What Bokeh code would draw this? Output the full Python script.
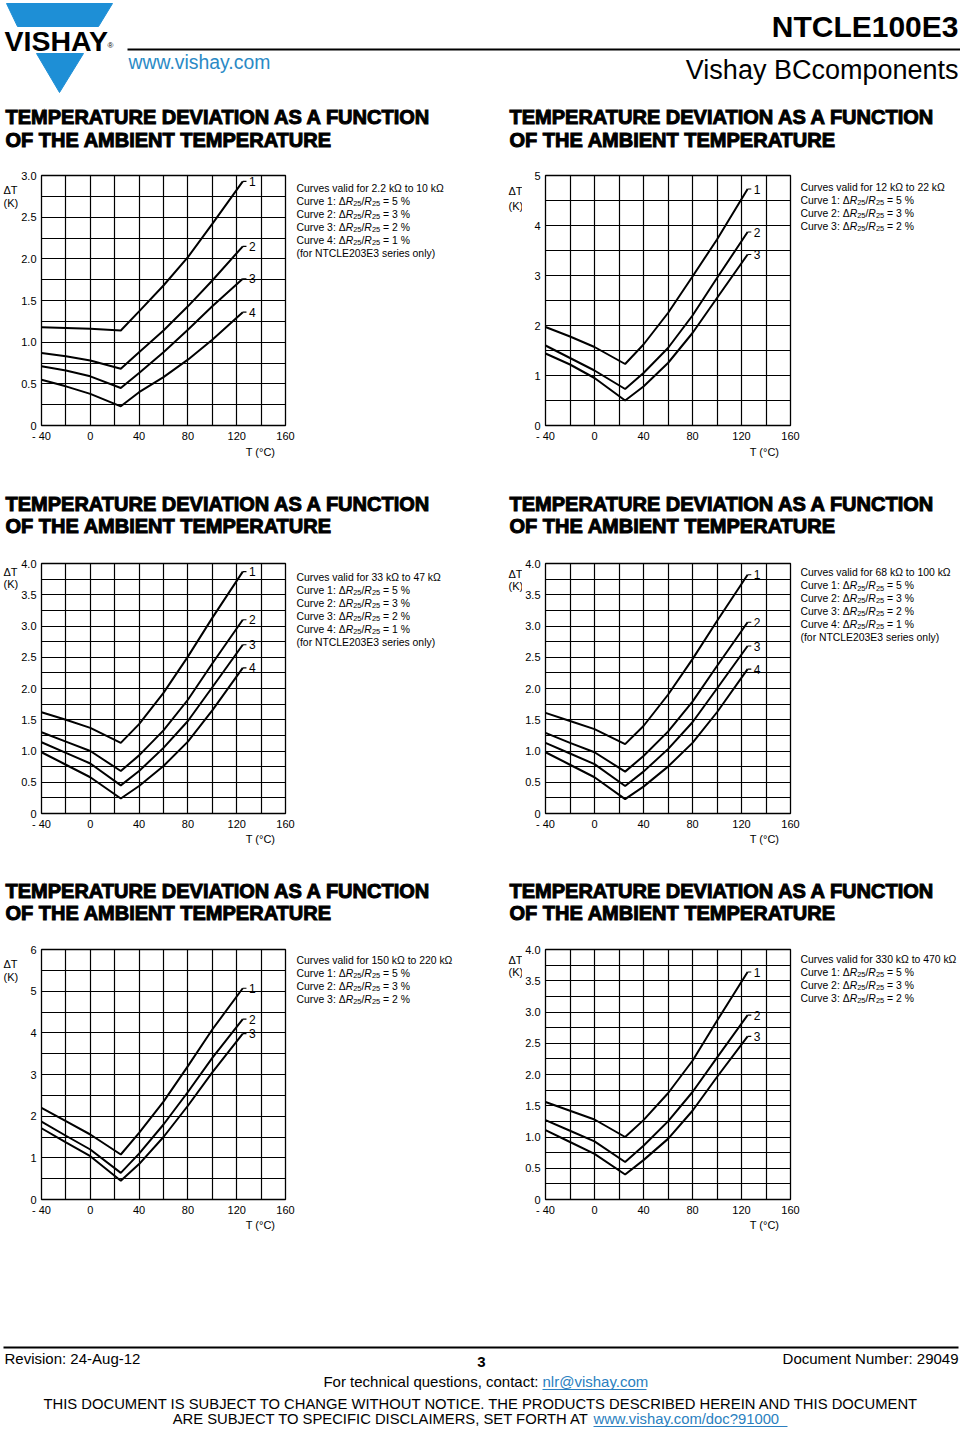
from bokeh.plotting import figure
from bokeh.models import Range1d, FixedTicker, Label
from bokeh.layouts import column, row
from bokeh.embed import file_html
from bokeh.resources import INLINE

FONT = "Liberation Sans"

# ---------------- data ----------------
T = [-40, -20, 0, 25, 40, 60, 80, 100, 125]
x_ticks = [-40, 0, 40, 80, 120, 160]
x_tick_labels = ["- 40", "0", "40", "80", "120", "160"]
x_grid = [-40, -20, 0, 20, 40, 60, 80, 100, 120, 140, 160]

# chart 1: 2.2 kOhm to 10 kOhm
ch1_c1 = [1.18, 1.17, 1.16, 1.14, 1.37, 1.68, 2.02, 2.42, 2.93]
ch1_c2 = [0.87, 0.83, 0.78, 0.68, 0.88, 1.14, 1.43, 1.74, 2.15]
ch1_c3 = [0.71, 0.66, 0.59, 0.45, 0.63, 0.88, 1.15, 1.43, 1.76]
ch1_c4 = [0.55, 0.47, 0.38, 0.23, 0.40, 0.58, 0.79, 1.03, 1.36]
ch1_yticks = [0, 0.5, 1.0, 1.5, 2.0, 2.5, 3.0]
ch1_ylabels = ["0", "0.5", "1.0", "1.5", "2.0", "2.5", "3.0"]

# chart 2: 12 kOhm to 22 kOhm
ch2_c1 = [1.97, 1.78, 1.57, 1.23, 1.62, 2.25, 2.98, 3.72, 4.73]
ch2_c2 = [1.60, 1.35, 1.10, 0.73, 1.05, 1.55, 2.20, 2.95, 3.87]
ch2_c3 = [1.44, 1.22, 0.95, 0.50, 0.78, 1.25, 1.85, 2.55, 3.42]
ch2_yticks = [0, 1, 2, 3, 4, 5]
ch2_ylabels = ["0", "1", "2", "3", "4", "5"]

# chart 3: 33 kOhm to 47 kOhm
ch3_c1 = [1.62, 1.50, 1.37, 1.13, 1.43, 1.93, 2.51, 3.13, 3.87]
ch3_c2 = [1.30, 1.15, 1.00, 0.68, 0.93, 1.33, 1.82, 2.40, 3.10]
ch3_c3 = [1.14, 0.97, 0.80, 0.45, 0.68, 1.05, 1.48, 2.02, 2.70]
ch3_c4 = [0.98, 0.78, 0.58, 0.24, 0.44, 0.76, 1.15, 1.65, 2.33]
ch3_yticks = [0, 0.5, 1.0, 1.5, 2.0, 2.5, 3.0, 3.5, 4.0]
ch3_ylabels = ["0", "0.5", "1.0", "1.5", "2.0", "2.5", "3.0", "3.5", "4.0"]

# chart 4: 68 kOhm to 100 kOhm
ch4_c1 = [1.61, 1.48, 1.35, 1.11, 1.40, 1.90, 2.47, 3.08, 3.82]
ch4_c2 = [1.29, 1.13, 0.98, 0.67, 0.92, 1.31, 1.79, 2.36, 3.06]
ch4_c3 = [1.13, 0.96, 0.79, 0.44, 0.67, 1.03, 1.46, 2.00, 2.68]
ch4_c4 = [0.98, 0.78, 0.58, 0.23, 0.43, 0.75, 1.13, 1.62, 2.31]
ch4_yticks = ch3_yticks
ch4_ylabels = ch3_ylabels

# chart 5: 150 kOhm to 220 kOhm
ch5_c1 = [2.20, 1.88, 1.56, 1.08, 1.60, 2.35, 3.20, 4.08, 5.07]
ch5_c2 = [1.87, 1.53, 1.20, 0.64, 1.10, 1.80, 2.58, 3.40, 4.33]
ch5_c3 = [1.71, 1.37, 1.04, 0.45, 0.85, 1.50, 2.25, 3.05, 3.98]
ch5_yticks = [0, 1, 2, 3, 4, 5, 6]
ch5_ylabels = ["0", "1", "2", "3", "4", "5", "6"]

# chart 6: 330 kOhm to 470 kOhm
ch6_c1 = [1.56, 1.42, 1.28, 1.00, 1.27, 1.70, 2.22, 2.86, 3.64]
ch6_c2 = [1.27, 1.10, 0.93, 0.60, 0.86, 1.25, 1.72, 2.27, 2.95]
ch6_c3 = [1.11, 0.92, 0.73, 0.40, 0.63, 0.97, 1.42, 1.96, 2.61]
ch6_yticks = ch3_yticks
ch6_ylabels = ch3_ylabels

valid_ranges = ["2.2 k\u03a9 to 10 k\u03a9", "12 k\u03a9 to 22 k\u03a9", "33 k\u03a9 to 47 k\u03a9",
                "68 k\u03a9 to 100 k\u03a9", "150 k\u03a9 to 220 k\u03a9", "330 k\u03a9 to 470 k\u03a9"]
curve_pcts = ["5 %", "3 %", "2 %", "1 %"]
note_line = "(for NTCLE203E3 series only)"

title1 = "TEMPERATURE DEVIATION AS A FUNCTION"
title2 = "OF THE AMBIENT TEMPERATURE"

BLUE = "#1e8fd6"
LINK = "#2a7fc0"

# ---------------- helpers ----------------
FR_H = 251      # frame height
TOP_B = 10      # chart top border
BOT_B = 18      # chart bottom border
LEFT_B = 23
RIGHT_B = 10


def text_fig(x0, x1, y0, y1, top_b=0, bot_b=0):
    # page-coordinate canvas; the frame covers y0 + top_b .. y1 - bot_b
    f = figure(width=x1 - x0, height=y1 - y0,
               x_range=Range1d(x0, x1), y_range=Range1d(y1 - bot_b, y0 + top_b),
               x_axis_type=None, y_axis_type=None, output_backend="svg", title=None,
               toolbar_location=None, min_border_left=0, min_border_right=0,
               min_border_top=top_b, min_border_bottom=bot_b)
    f.outline_line_color = None
    f.background_fill_color = "white"
    f.border_fill_color = "white"
    return f


def txt(f, x, y, t, size="11px", align="left", style="normal", color="black", outline=None):
    f.add_layout(Label(x=x, y=y, text=t, text_font=FONT, text_font_size=size,
                       text_font_style=style, text_align=align, text_baseline="middle",
                       text_color=color, text_outline_color=outline))


def chart_fig(fw, ymax, ystep, yticks, ylabels, curves):
    p = figure(width=LEFT_B + fw + RIGHT_B, height=TOP_B + FR_H + BOT_B,
               x_range=Range1d(-40, 160), y_range=Range1d(0, ymax), title=None,
               output_backend="svg", toolbar_location=None,
               min_border_left=LEFT_B, min_border_right=RIGHT_B,
               min_border_top=TOP_B, min_border_bottom=BOT_B)
    p.outline_line_color = "black"
    p.outline_line_width = 1.3
    p.background_fill_color = "white"
    p.border_fill_color = "white"
    p.xaxis.ticker = FixedTicker(ticks=x_ticks)
    p.xaxis.major_label_overrides = dict(zip(x_ticks, x_tick_labels))
    p.yaxis.ticker = FixedTicker(ticks=yticks)
    p.yaxis.major_label_overrides = dict(zip(yticks, ylabels))
    for ax in (p.xaxis, p.yaxis):
        ax.axis_line_color = None
        ax.major_tick_line_color = None
        ax.minor_tick_line_color = None
        ax.major_tick_out = 0
        ax.major_tick_in = 0
        ax.minor_tick_out = 0
        ax.minor_tick_in = 0
        ax.major_label_text_font = FONT
        ax.major_label_text_font_size = "11px"
        ax.major_label_text_color = "black"
    p.xaxis.major_label_standoff = 4
    p.yaxis.major_label_standoff = 5
    n = int(round(ymax / ystep))
    p.xgrid.ticker = FixedTicker(ticks=x_grid)
    p.ygrid.ticker = FixedTicker(ticks=[i * ystep for i in range(n + 1)])
    for g in (p.xgrid, p.ygrid):
        g.grid_line_color = "black"
        g.grid_line_width = 1.2
        g.grid_line_alpha = 1.0
    ends = []
    for c in curves:
        p.line(T, c, line_color="black", line_width=2)
        ends.append(c[-1])
    p.segment(x0=[T[-1]] * len(ends), y0=ends, x1=[T[-1] + 3] * len(ends), y1=ends,
              line_color="black", line_width=1.2)
    for i, e in enumerate(ends):
        p.add_layout(Label(x=T[-1] + 5, y=e, text=str(i + 1), text_font=FONT,
                           text_font_size="12px", text_baseline="middle",
                           text_align="left", text_color="black"))
    return p


LS = 10.4   # legend font size in px
SUB = 0.72  # subscript scale


def curve_line(f, x, y, k):
    s = LS
    fs = "%.2fpx" % s
    ss = "%.2fpx" % (s * SUB)
    txt(f, x, y, "Curve %d: \u0394" % (k + 1), size=fs)
    x += 4.725 * s
    for part in range(2):
        txt(f, x, y, "R", size=fs, style="italic")
        x += 0.722 * s
        txt(f, x, y + 2.6, "25", size=ss)
        x += 1.112 * s * SUB
        if part == 0:
            txt(f, x, y, "/", size=fs)
            x += 0.278 * s
    x += 0.278 * s
    txt(f, x, y, "= " + curve_pcts[k], size=fs)


def legend_block(f, x, y, idx, ncurves, note):
    txt(f, x, y, "Curves valid for " + valid_ranges[idx], size="%.2fpx" % LS)
    for k in range(ncurves):
        curve_line(f, x, y + 13 * (k + 1), k)
    if note:
        txt(f, x, y + 13 * (ncurves + 1), note_line, size="%.2fpx" % LS)


def titles(f, y):
    for x in (5, 509):
        txt(f, x, y, title1, size="20px", style="bold", outline="black")
        txt(f, x, y + 22.8, title2, size="20px", style="bold", outline="black")


# vertical page positions of frame tops
row_tops = [175, 563, 949]
mid_y0 = [t - TOP_B for t in row_tops]
mid_y1 = [t + FR_H + BOT_B for t in row_tops]

# x layout
L_W = 18
C1_W = LEFT_B + 244 + RIGHT_B   # 277
C2_W = LEFT_B + 245 + RIGHT_B   # 278
xs = [0, L_W, L_W + C1_W, 522, 522 + C2_W, 960]

chart_defs = [
    (ch1_c1, ch1_c2, ch1_c3, ch1_c4), (ch2_c1, ch2_c2, ch2_c3),
    (ch3_c1, ch3_c2, ch3_c3, ch3_c4), (ch4_c1, ch4_c2, ch4_c3, ch4_c4),
    (ch5_c1, ch5_c2, ch5_c3), (ch6_c1, ch6_c2, ch6_c3),
]
ymaxs = [3.0, 5.0, 4.0, 4.0, 6.0, 4.0]
ysteps = [0.25, 0.5, 0.25, 0.25, 0.5, 0.25]
yticks_all = [ch1_yticks, ch2_yticks, ch3_yticks, ch4_yticks, ch5_yticks, ch6_yticks]
ylabels_all = [ch1_ylabels, ch2_ylabels, ch3_ylabels, ch4_ylabels, ch5_ylabels, ch6_ylabels]
notes = [True, False, True, True, False, False]
legend_y = [188, 187, 577, 572, 960, 959]
dT_y = [(190, 203), (191, 206), (572, 584), (574, 586), (964, 977), (960, 972)]

rows = []
for r in range(3):
    y0, y1 = mid_y0[r], mid_y1[r]
    a, b = 2 * r, 2 * r + 1
    fl = text_fig(xs[0], xs[1], y0, y1, TOP_B, BOT_B)
    fm = text_fig(xs[2], xs[3], y0, y1, TOP_B, BOT_B)
    fr = text_fig(xs[4], xs[5], y0, y1, TOP_B, BOT_B)
    ca = chart_fig(244, ymaxs[a], ysteps[a], yticks_all[a], ylabels_all[a], chart_defs[a])
    cb = chart_fig(245, ymaxs[b], ysteps[b], yticks_all[b], ylabels_all[b], chart_defs[b])
    txt(fl, 3, dT_y[a][0], "\u0394T")
    txt(fl, 3, dT_y[a][1], "(K)")
    txt(fm, 508, dT_y[b][0], "\u0394T")
    txt(fm, 508, dT_y[b][1], "(K)")
    legend_block(fm, 296, legend_y[a], a, len(chart_defs[a]), notes[a])
    legend_block(fr, 800, legend_y[b], b, len(chart_defs[b]), notes[b])
    rows.append(row(fl, ca, fm, cb, fr))

# ---------------- header (with first row titles) ----------------
logo_top_x = [6, 112, 98, 17]
logo_top_y = [3, 3, 26, 26]
logo_low_x = [36, 83, 59]
logo_low_y = [53, 53, 92]

hdr = text_fig(0, 960, 0, mid_y0[0])
hdr.patches([logo_top_x, logo_low_x], [logo_top_y, logo_low_y], fill_color=BLUE, line_color=BLUE)
txt(hdr, 4, 40, "VISHAY", size="28.5px", style="bold")
txt(hdr, 107, 45, "\u00ae", size="8px")
hdr.segment(x0=[127], y0=[49], x1=[960], y1=[49], line_color="black", line_width=2)
txt(hdr, 128, 61, "www.vishay.com", size="19.4px", color="#2a8ac6")
txt(hdr, 958, 26, "NTCLE100E3", size="30px", style="bold", align="right")
txt(hdr, 958, 69, "Vishay BCcomponents", size="27px", align="right")
titles(hdr, 116.7)

# ---------------- gaps ----------------
gap1 = text_fig(0, 960, mid_y1[0], mid_y0[1])
txt(gap1, 260, 451, "T (\u00b0C)", align="center")
txt(gap1, 764, 451, "T (\u00b0C)", align="center")
titles(gap1, 503)

gap2 = text_fig(0, 960, mid_y1[1], mid_y0[2])
txt(gap2, 260, 838, "T (\u00b0C)", align="center")
txt(gap2, 764, 838, "T (\u00b0C)", align="center")
titles(gap2, 890)

# ---------------- footer ----------------
ftr = text_fig(0, 960, mid_y1[2], 1434)
txt(ftr, 260, 1224, "T (\u00b0C)", align="center")
txt(ftr, 764, 1224, "T (\u00b0C)", align="center")
ftr.segment(x0=[3], y0=[1347], x1=[958], y1=[1347], line_color="black", line_width=2)
txt(ftr, 4, 1358, "Revision: 24-Aug-12", size="15px")
txt(ftr, 481, 1361, "3", size="15px", style="bold", align="center")
txt(ftr, 958, 1358, "Document Number: 29049", size="15px", align="right")
txt(ftr, 538, 1381, "For technical questions, contact:", size="15px", align="right")
txt(ftr, 542, 1381, "nlr@vishay.com", size="15px", color=LINK)
ftr.segment(x0=[542], y0=[1389], x1=[646], y1=[1389], line_color=LINK, line_width=1)
txt(ftr, 481, 1403, "THIS DOCUMENT IS SUBJECT TO CHANGE WITHOUT NOTICE. THE PRODUCTS DESCRIBED HEREIN AND THIS DOCUMENT",
    size="14.8px", align="center")
txt(ftr, 589, 1418, "ARE SUBJECT TO SPECIFIC DISCLAIMERS, SET FORTH AT", size="14.8px", align="right")
txt(ftr, 593, 1418, "www.vishay.com/doc?91000", size="14.8px", color=LINK)
ftr.segment(x0=[593], y0=[1426], x1=[787], y1=[1426], line_color=LINK, line_width=1)

layout = column(hdr, rows[0], gap1, rows[1], gap2, rows[2], ftr)
open("out.html", "w").write(file_html(layout, INLINE))
